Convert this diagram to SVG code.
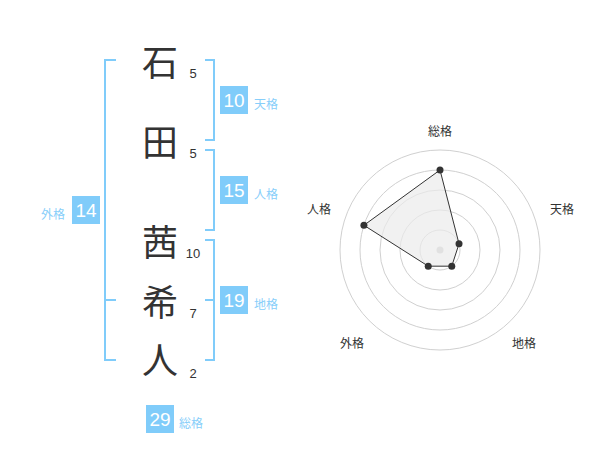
<svg xmlns="http://www.w3.org/2000/svg" width="600" height="470" viewBox="0 0 600 470">
<style>
.ch{font-family:"Noto Sans CJK JP","Noto Sans CJK SC",sans-serif;font-size:36px;fill:#333;text-anchor:middle;dominant-baseline:central}
.sn{font-family:"Liberation Sans",Arial,sans-serif;font-size:13px;fill:#333;text-anchor:middle;dominant-baseline:central}
.br{fill:none;stroke:#80ccfa;stroke-width:2}
.bx{fill:#80ccfa}
.bn{font-family:"Liberation Sans",Arial,sans-serif;font-size:19px;fill:#fff;text-anchor:middle;dominant-baseline:central}
.bl{font-family:"Noto Sans CJK JP","Noto Sans CJK SC",sans-serif;font-size:12px;fill:#87cefa;dominant-baseline:central}
.ring{fill:none;stroke:#d0d0d0;stroke-width:1}
.rl{font-family:"Noto Sans CJK JP","Noto Sans CJK SC",sans-serif;font-size:12px;fill:#333;text-anchor:middle;dominant-baseline:central}
.pt{fill:#333}
</style>
<g id="name">
<text class="ch" x="160" y="60">石</text>
<text class="ch" x="160" y="140">田</text>
<text class="ch" x="160" y="240">茜</text>
<text class="ch" x="160" y="300">希</text>
<text class="ch" x="160" y="358">人</text>
<text class="sn" x="193" y="73">5</text>
<text class="sn" x="193" y="153">5</text>
<text class="sn" x="193" y="253">10</text>
<text class="sn" x="193" y="313">7</text>
<text class="sn" x="193" y="373">2</text>
</g>
<g id="connectors">
<path class="br" d="M116,60 H105 V360 H116 M105,300 H116"/>
<path class="br" d="M205,60 H214 V140 H205"/>
<path class="br" d="M205,150 H214 V230 H205"/>
<path class="br" d="M205,240 H214 V360 H205 M205,300 H214"/>
</g>
<g id="tenkaku">
<rect class="bx" x="220" y="86" width="28" height="28"/>
<text class="bn" x="234" y="100">10</text>
<text class="bl" x="254" y="103">天格</text>
</g>
<g id="jinkaku">
<rect class="bx" x="220" y="176" width="28" height="28"/>
<text class="bn" x="234" y="190">15</text>
<text class="bl" x="254" y="193">人格</text>
</g>
<g id="chikaku">
<rect class="bx" x="220" y="286" width="28" height="28"/>
<text class="bn" x="234" y="300">19</text>
<text class="bl" x="254" y="303">地格</text>
</g>
<g id="gaikaku">
<rect class="bx" x="72" y="196" width="28" height="28"/>
<text class="bn" x="86" y="210">14</text>
<text class="bl" x="41" y="213">外格</text>
</g>
<g id="soukaku">
<rect class="bx" x="146" y="405" width="28" height="28"/>
<text class="bn" x="160" y="419">29</text>
<text class="bl" x="179" y="422">総格</text>
</g>
<g id="radar">
<circle class="ring" cx="440" cy="250" r="20"/>
<circle class="ring" cx="440" cy="250" r="40"/>
<circle class="ring" cx="440" cy="250" r="60"/>
<circle class="ring" cx="440" cy="250" r="80"/>
<circle class="ring" cx="440" cy="250" r="100"/>
<circle cx="440" cy="250" r="3.5" fill="#c8c8c8"/>
<polygon points="440,170 459.02,243.82 451.76,266.18 428.24,266.18 363.92,225.28" fill="#ebebeb" fill-opacity="0.7" stroke="#333" stroke-width="1"/>
<circle class="pt" cx="440" cy="170" r="3.5"/>
<circle class="pt" cx="459.02" cy="243.82" r="3.5"/>
<circle class="pt" cx="451.76" cy="266.18" r="3.5"/>
<circle class="pt" cx="428.24" cy="266.18" r="3.5"/>
<circle class="pt" cx="363.92" cy="225.28" r="3.5"/>
<text class="rl" x="440" y="130">総格</text>
<text class="rl" x="562" y="208">天格</text>
<text class="rl" x="319" y="208">人格</text>
<text class="rl" x="352" y="342">外格</text>
<text class="rl" x="524" y="342">地格</text>
</g>
</svg>
